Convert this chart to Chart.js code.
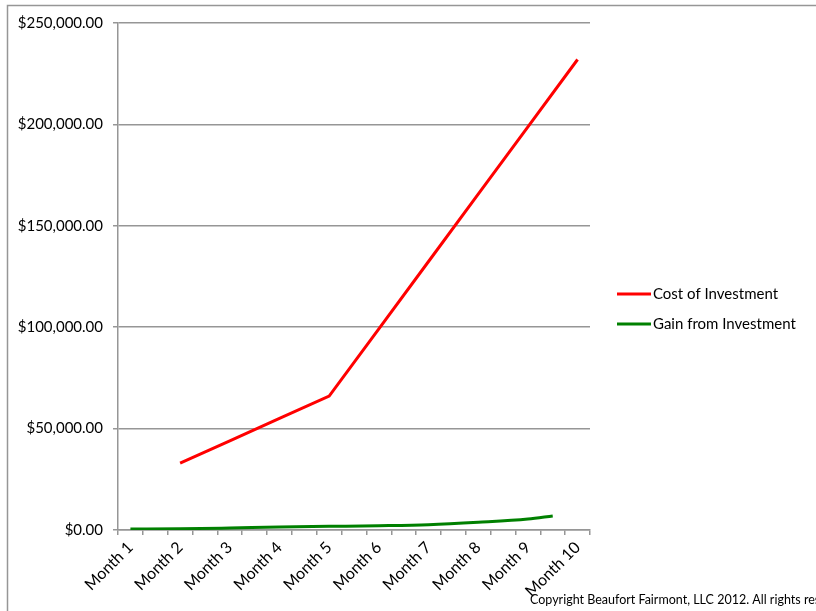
<!DOCTYPE html>
<html>
<head>
<meta charset="utf-8">
<script src="https://cdn.jsdelivr.net/npm/chart.js@4/dist/chart.umd.min.js"></script>
<style>
  html, body { margin: 0; padding: 0; background: #fff; }
  #wrap { width: 816px; height: 611px; position: relative; }
</style>
</head>
<body>
<div id="wrap"><canvas id="investChart"></canvas></div>
<script>
// Axis slots: the source sheet has a half-month slot between each labelled month
const slotLabels = ['Month 1', '', 'Month 2', '', 'Month 3', '', 'Month 4', '', 'Month 5', '',
                    'Month 6', '', 'Month 7', '', 'Month 8', '', 'Month 9', '', 'Month 10'];
const costOfInvestment = [null, null, 33000, null, 44000, null, 55000, null, 66000, null,
                          99200, null, 132400, null, 165600, null, 198800, null, 232000];
const gainFromInvestment = [500, null, 600, null, 1000, null, 1500, null, 1800, null,
                            2100, null, 2600, null, 3800, null, 5400, 6900, null];
const yTicks = [0, 50000, 100000, 150000, 200000, 250000];
const copyrightText = 'Copyright Beaufort Fairmont, LLC 2012. All rights reserved.';

const FONT = "Lato, 'Open Sans', sans-serif";
const GRID = '#969696';

function money(v) {
    return '$' + v.toLocaleString('en-US', { minimumFractionDigits: 2, maximumFractionDigits: 2 });
}

// frame, legend and footer drawn by hand to match the spreadsheet look
const extras = {
    id: 'extras',
    afterDraw(chart) {
        const ctx = chart.ctx;
        ctx.save();
        ctx.strokeStyle = GRID;
        ctx.lineWidth = 1.5;
        ctx.beginPath();
        ctx.moveTo(7.5, 611);
        ctx.lineTo(7.5, 5.5);
        ctx.lineTo(816, 5.5);
        ctx.stroke();

        ctx.font = '15px ' + FONT;
        ctx.textBaseline = 'middle';
        ctx.fillStyle = '#000';
        chart.data.datasets.forEach(function(ds, i) {
            const y = 294 + i * 30;
            ctx.strokeStyle = ds.borderColor;
            ctx.lineWidth = 3;
            ctx.beginPath();
            ctx.moveTo(617, y);
            ctx.lineTo(651, y);
            ctx.stroke();
            ctx.fillText(ds.label, 653, y);
        });

        ctx.font = '12.5px ' + FONT;
        ctx.textBaseline = 'alphabetic';
        ctx.fillText(copyrightText, 530, 604);
        ctx.restore();
    }
};

new Chart(document.getElementById('investChart'), {
    type: 'line',
    data: {
        labels: slotLabels,
        datasets: [{
            label: 'Cost of Investment',
            data: costOfInvestment,
            borderColor: '#ff0000',
            borderWidth: 3,
            pointRadius: 0,
            tension: 0,
            spanGaps: true
        }, {
            label: 'Gain from Investment',
            data: gainFromInvestment,
            borderColor: '#008000',
            borderWidth: 3,
            pointRadius: 0,
            cubicInterpolationMode: 'monotone',
            spanGaps: true
        }]
    },
    options: {
        responsive: true,
        maintainAspectRatio: false,
        animation: false,
        layout: { padding: { left: 0, top: 23, right: 226, bottom: 0 } },
        plugins: {
            legend: { display: false },
            tooltip: { enabled: false }
        },
        scales: {
            x: {
                type: 'category',
                offset: true,
                grid: {
                    offset: true,
                    drawOnChartArea: false,
                    drawTicks: true,
                    tickLength: 5,
                    color: GRID,
                    lineWidth: 1.5
                },
                border: { color: GRID, width: 1.5 },
                ticks: {
                    autoSkip: false,
                    minRotation: 45,
                    maxRotation: 45,
                    padding: 3,
                    color: '#000',
                    font: { family: FONT, size: 16 }
                },
                afterFit: function(scale) { scale.height = 81; }
            },
            y: {
                min: 0,
                max: 250000,
                afterBuildTicks: function(scale) {
                    scale.ticks = yTicks.map(function(v) { return { value: v }; });
                },
                grid: {
                    color: GRID,
                    lineWidth: 1.5,
                    tickLength: 5
                },
                border: { color: GRID, width: 1.5 },
                ticks: {
                    padding: 10,
                    color: '#000',
                    font: { family: FONT, size: 15 },
                    callback: function(v) { return money(v); }
                },
                afterFit: function(scale) { scale.width = 118; }
            }
        }
    },
    plugins: [extras]
});
</script>
</body>
</html>
